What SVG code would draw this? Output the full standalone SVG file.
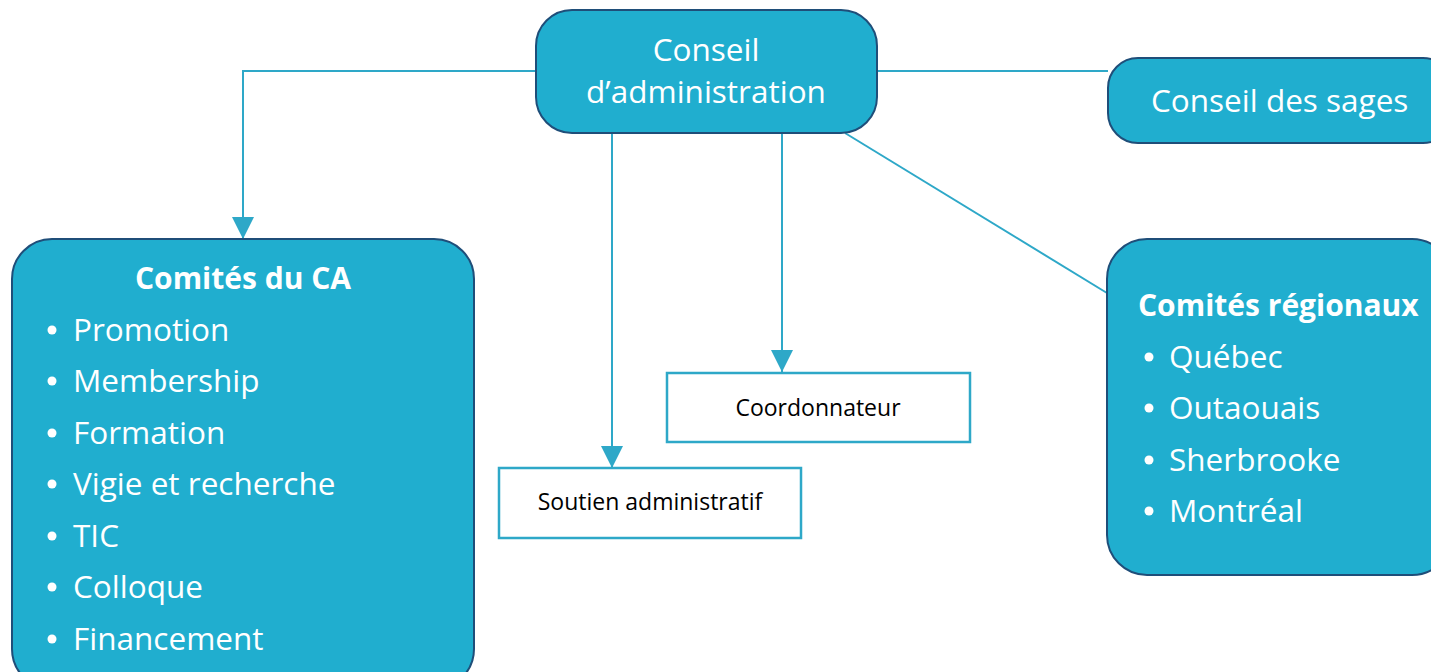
<svg xmlns="http://www.w3.org/2000/svg" width="1431" height="672" viewBox="0 0 1431 672">
<defs>
<style>
.box{fill:#20aecf;stroke:#1f4e79;stroke-width:2}
.sq{fill:#ffffff;stroke:#2ea8c8;stroke-width:2.5}
.ln{stroke:#2ea8c8;stroke-width:2;fill:none}
.t{font-family:"Open Sans","Noto Sans","Liberation Sans",sans-serif;fill:#ffffff;font-size:31.5px}
.b{font-weight:bold;font-size:30px}
.k{font-family:"Open Sans","Noto Sans","Liberation Sans",sans-serif;fill:#000000;font-size:23px}
</style>
<marker id="arrb" viewBox="0 0 10 10" refX="10" refY="5" markerWidth="22" markerHeight="22" markerUnits="userSpaceOnUse" orient="auto">
<path d="M0,0 L10,5 L0,10 Z" fill="#2ea8c8"/>
</marker>
</defs>
<g id="connectors">
<polyline class="ln" points="536,71 243,71 243,239" marker-end="url(#arrb)"/>
<line class="ln" x1="877" y1="71" x2="1108" y2="71"/>
<line class="ln" x1="612" y1="133" x2="612" y2="468" marker-end="url(#arrb)"/>
<line class="ln" x1="782" y1="133" x2="782" y2="372" marker-end="url(#arrb)"/>
<line class="ln" x1="845" y1="133" x2="1107" y2="293"/>
</g>
<g id="conseil-admin">
<rect class="box" x="536" y="10" width="341" height="123" rx="36"/>
<text class="t" x="706" y="61" text-anchor="middle">Conseil</text>
<text class="t" x="706" y="103" text-anchor="middle">d’administration</text>
</g>
<g id="conseil-sages">
<rect class="box" x="1108" y="58" width="345" height="85" rx="30"/>
<text class="t" x="1151" y="112">Conseil des sages</text>
</g>
<g id="comites-ca">
<rect class="box" x="12" y="239" width="462" height="450" rx="40"/>
<text class="t b" x="243" y="289" text-anchor="middle">Comités du CA</text>
<g class="t">
<circle cx="52" cy="330" r="4.5" fill="#fff"/><text x="73" y="341">Promotion</text>
<circle cx="52" cy="381" r="4.5" fill="#fff"/><text x="73" y="392">Membership</text>
<circle cx="52" cy="433" r="4.5" fill="#fff"/><text x="73" y="444">Formation</text>
<circle cx="52" cy="484" r="4.5" fill="#fff"/><text x="73" y="495">Vigie et recherche</text>
<circle cx="52" cy="536" r="4.5" fill="#fff"/><text x="73" y="547">TIC</text>
<circle cx="52" cy="587" r="4.5" fill="#fff"/><text x="73" y="598">Colloque</text>
<circle cx="52" cy="639" r="4.5" fill="#fff"/><text x="73" y="650">Financement</text>
</g>
</g>
<g id="comites-regionaux">
<rect class="box" x="1107" y="239" width="345" height="336" rx="40"/>
<text class="t b" x="1138" y="316">Comités régionaux</text>
<g class="t">
<circle cx="1149" cy="357" r="4.5" fill="#fff"/><text x="1169" y="368">Québec</text>
<circle cx="1149" cy="408" r="4.5" fill="#fff"/><text x="1169" y="419">Outaouais</text>
<circle cx="1149" cy="460" r="4.5" fill="#fff"/><text x="1169" y="471">Sherbrooke</text>
<circle cx="1149" cy="511" r="4.5" fill="#fff"/><text x="1169" y="522">Montréal</text>
</g>
</g>
<g id="coordonnateur">
<rect class="sq" x="667" y="373" width="303" height="69"/>
<text class="k" x="818" y="416" text-anchor="middle">Coordonnateur</text>
</g>
<g id="soutien">
<rect class="sq" x="499" y="468" width="302" height="70"/>
<text class="k" x="650" y="510" text-anchor="middle">Soutien administratif</text>
</g>
</svg>
